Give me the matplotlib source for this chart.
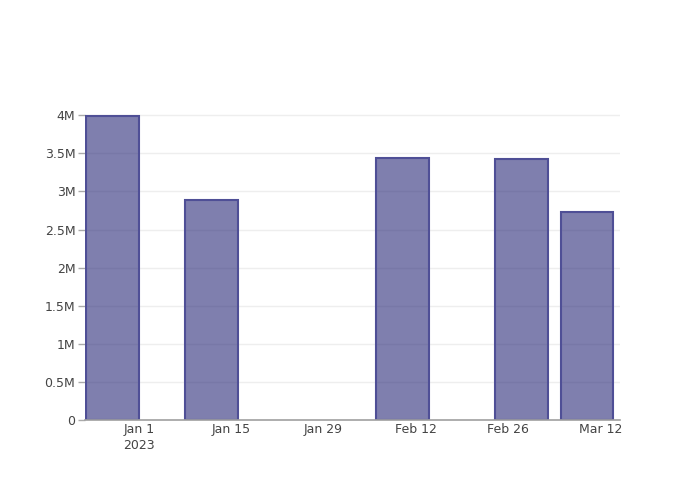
import datetime as dt
import matplotlib
matplotlib.use("Agg")
import matplotlib.pyplot as plt

# data
dates = ["2022-12-28", "2023-01-12", "2023-02-10", "2023-02-28", "2023-03-10"]
values = [3.99e6, 2.885e6, 3.436e6, 3.423e6, 2.728e6]

tick_dates = ["2023-01-01", "2023-01-15", "2023-01-29", "2023-02-12", "2023-02-26", "2023-03-12"]
tick_labels = ["Jan 1\n2023", "Jan 15", "Jan 29", "Feb 12", "Feb 26", "Mar 12"]
y_ticks = [0, 0.5e6, 1e6, 1.5e6, 2e6, 2.5e6, 3e6, 3.5e6, 4e6]
y_labels = ["0", "0.5M", "1M", "1.5M", "2M", "2.5M", "3M", "3.5M", "4M"]

x = [dt.datetime.fromisoformat(d) for d in dates]
xt = [dt.datetime.fromisoformat(d) for d in tick_dates]

plt.rcParams['font.family'] = ['DejaVu Sans']
fig = plt.figure(figsize=(7, 5), dpi=100)
ax = fig.add_axes([85/700, 80/500, 535/700, 320/500])

ax.bar(x, values, width=8, color=(42/255, 42/255, 120/255, 0.6),
       edgecolor='#4f4f96', linewidth=1.5, zorder=3)

jan1 = dt.datetime(2023, 1, 1)
ax.set_xlim(jan1 - dt.timedelta(days=8.2), jan1 + dt.timedelta(days=73.0))
ax.set_ylim(0, 4.2e6)

ax.set_xticks(xt)
ax.set_xticklabels(tick_labels, fontsize=9, color='#444444', linespacing=1.3)
ax.set_yticks(y_ticks)
ax.set_yticklabels(y_labels, fontsize=9, color='#444444')
ax.tick_params(axis='x', length=0, pad=2)
ax.tick_params(axis='y', length=5, width=1, color='#aaaaaa', pad=2)

ax.grid(axis='y', color='#eeeeee', linewidth=1, zorder=0)
for s in ['top', 'right', 'left']:
    ax.spines[s].set_visible(False)
ax.spines['bottom'].set_color('#a0a0a0')
ax.spines['bottom'].set_linewidth(1.2)
ax.spines['bottom'].set_zorder(4)

fig.savefig("out.png", dpi=100)
